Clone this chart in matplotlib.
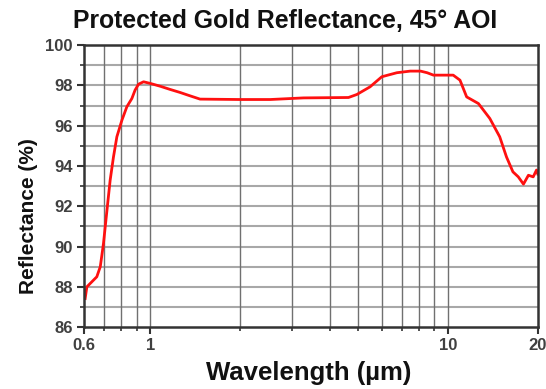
import matplotlib
matplotlib.use("Agg")
import matplotlib.pyplot as plt
from matplotlib.ticker import FixedLocator, FixedFormatter, NullFormatter

wavelength_um = [0.605, 0.613, 0.637, 0.662, 0.68, 0.697, 0.716, 0.734, 0.753, 0.773,
                 0.804, 0.835, 0.868, 0.89, 0.914, 0.95, 1.0, 1.08, 1.167, 1.26,
                 1.35, 1.47, 2.0, 2.53, 3.27, 4.63, 4.94, 5.47, 5.99, 6.73,
                 7.46, 8.08, 8.5, 8.93, 10.4, 10.96, 11.54, 12.64, 13.8, 14.9,
                 15.7, 16.5, 17.2, 17.9, 18.6, 19.3, 19.8, 20.0]
reflectance_pct = [87.42, 88.0, 88.25, 88.5, 89.0, 90.15, 91.8, 93.3, 94.45, 95.45,
                   96.28, 96.94, 97.35, 97.77, 98.06, 98.18, 98.1, 97.96, 97.8, 97.65,
                   97.5, 97.32, 97.3, 97.3, 97.38, 97.4, 97.55, 97.93, 98.43, 98.63,
                   98.71, 98.71, 98.63, 98.51, 98.51, 98.26, 97.43, 97.1, 96.36, 95.45,
                   94.45, 93.71, 93.46, 93.1, 93.54, 93.46, 93.8, 93.6]

x_major = [0.6, 1, 10, 20]
x_major_labels = ["0.6", "1", "10", "20"]
x_minor = [0.7, 0.8, 0.9, 2, 3, 4, 5, 6, 7, 8, 9]
y_major = [86, 88, 90, 92, 94, 96, 98, 100]
y_minor = [87, 89, 91, 93, 95, 97, 99]

plt.rcParams['font.family'] = ['Liberation Sans', 'DejaVu Sans']
plt.rcParams['font.weight'] = 'bold'

fig = plt.figure(figsize=(5.46, 3.89), dpi=100)
ax = fig.add_axes([0.154, 0.159, 0.831, 0.725])

ax.set_xscale('log')
ax.set_xlim(0.6, 20)
ax.set_ylim(86, 100)

# grid
for y in y_major[1:-1] + y_minor:
    ax.axhline(y, color='#a8a8a8', lw=1.5, zorder=1)
for x in [0.7, 0.8, 0.9, 1, 2, 3, 4, 5, 6, 7, 8, 9, 10]:
    ax.axvline(x, color='#707070', lw=1.0, zorder=1.1)

ax.plot(wavelength_um, reflectance_pct, color='#ff1010', lw=2.0, zorder=3)

ax.xaxis.set_major_locator(FixedLocator(x_major))
ax.xaxis.set_major_formatter(FixedFormatter(x_major_labels))
ax.xaxis.set_minor_locator(FixedLocator(x_minor))
ax.xaxis.set_minor_formatter(NullFormatter())
ax.yaxis.set_major_locator(FixedLocator(y_major))
ax.yaxis.set_minor_locator(FixedLocator(y_minor))
ax.yaxis.set_minor_formatter(NullFormatter())

ax.tick_params(axis='both', which='major', direction='out', length=5, width=1.5,
               color='#333333', labelsize=12, labelcolor='#404040', pad=3)
ax.tick_params(axis='both', which='minor', direction='out', length=3, width=1.2,
               color='#333333')
for lab in ax.get_xticklabels() + ax.get_yticklabels():
    lab.set_fontweight('bold')

for s in ax.spines.values():
    s.set_color('#333333')
    s.set_linewidth(1.8)
    s.set_zorder(4)

fig.text(0.522, 0.978, "Protected Gold Reflectance, 45° AOI", fontsize=17.8,
         fontweight='bold', color='#111111', ha='center', va='top')
fig.text(0.566, 0.01, "Wavelength (µm)", fontsize=18.5, fontweight='bold',
         color='#111111', ha='center', va='bottom')
fig.text(0.052, 0.445, "Reflectance (%)", fontsize=15, fontweight='bold',
         color='#111111', ha='center', va='center', rotation=90)

fig.savefig("out.png", dpi=100)
